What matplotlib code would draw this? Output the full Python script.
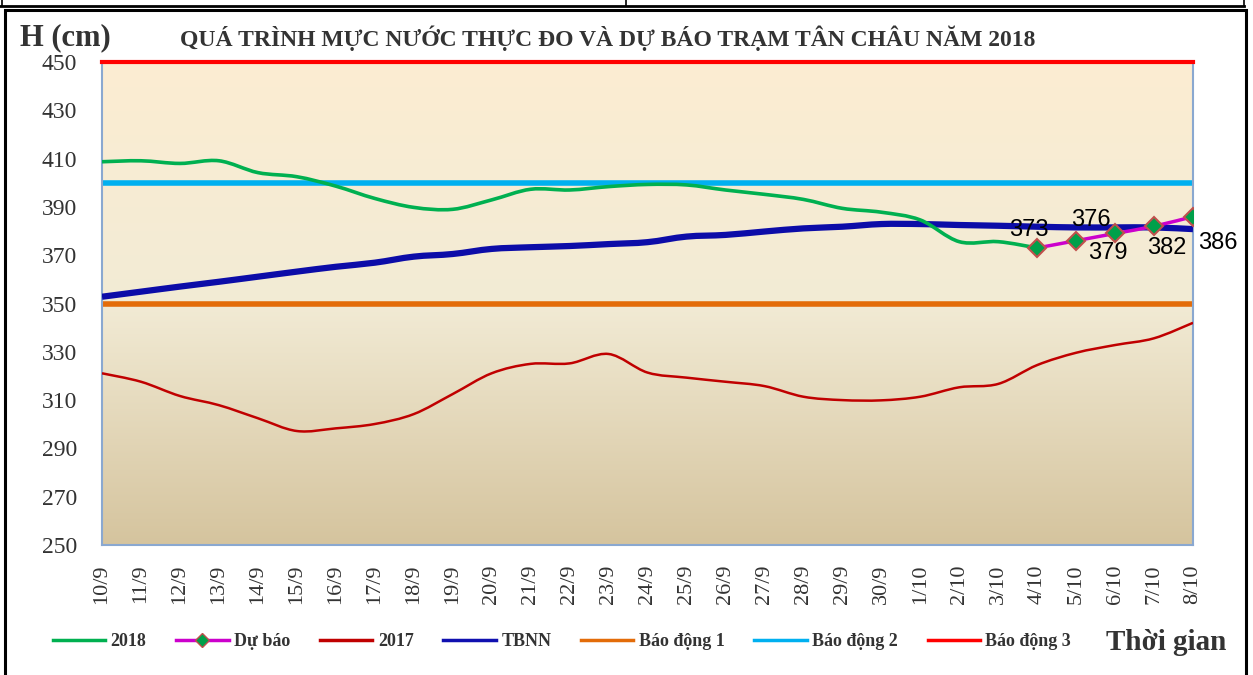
import numpy as np
import matplotlib
matplotlib.use("Agg")
import matplotlib.pyplot as plt
from matplotlib.path import Path
from matplotlib.patches import PathPatch, Rectangle
from matplotlib.lines import Line2D
from matplotlib.colors import LinearSegmentedColormap

# ---- data ----
dates = ['10/9', '11/9', '12/9', '13/9', '14/9', '15/9', '16/9', '17/9', '18/9', '19/9',
         '20/9', '21/9', '22/9', '23/9', '24/9', '25/9', '26/9', '27/9', '28/9', '29/9',
         '30/9', '1/10', '2/10', '3/10', '4/10', '5/10', '6/10', '7/10', '8/10']

h2018 = [408.7, 409.1, 408.0, 409.1, 404.2, 402.5, 398.6, 393.5, 389.8, 389.0,
         392.9, 397.3, 397.0, 398.4, 399.3, 399.1, 397.0, 395.2, 393.1, 389.4,
         387.8, 384.6, 375.6, 375.6, 373.0]

du_bao_dates = ['4/10', '5/10', '6/10', '7/10', '8/10']
du_bao = [373, 376, 379, 382, 386]

h2017 = [321.1, 317.6, 311.7, 307.9, 302.5, 297.2, 298.3, 300.1, 304.2, 312.5,
         321.1, 325.0, 325.2, 329.1, 321.4, 319.3, 317.6, 315.8, 311.4, 310.0,
         309.9, 311.4, 315.3, 316.7, 324.5, 329.6, 332.8, 335.6, 342.0]

tbnn = [352.8, 354.9, 357.0, 359.0, 361.1, 363.2, 365.2, 366.9, 369.4, 370.5,
        372.6, 373.3, 373.8, 374.6, 375.4, 377.7, 378.4, 379.8, 381.1, 381.8,
        382.9, 382.9, 382.5, 382.2, 381.8, 381.5, 381.5, 381.5, 380.8]

bao_dong_1 = 350
bao_dong_2 = 400
bao_dong_3 = 450

W, H = 1253, 675
SERIF = ['Liberation Serif', 'DejaVu Serif']
SANS = ['Liberation Sans', 'DejaVu Sans']


def smooth_path(xs, ys):
    # Excel-like smoothed line: cubic Bezier segments (Catmull-Rom control points)
    xs = np.asarray(xs, float)
    ys = np.asarray(ys, float)
    verts = [(xs[0], ys[0])]
    codes = [Path.MOVETO]
    n = len(xs)
    for i in range(n - 1):
        i0 = max(i - 1, 0)
        i3 = min(i + 2, n - 1)
        c1 = (xs[i] + (xs[i + 1] - xs[i0]) / 6, ys[i] + (ys[i + 1] - ys[i0]) / 6)
        c2 = (xs[i + 1] - (xs[i3] - xs[i]) / 6, ys[i + 1] - (ys[i3] - ys[i]) / 6)
        verts += [c1, c2, (xs[i + 1], ys[i + 1])]
        codes += [Path.CURVE4] * 3
    return Path(verts, codes)


fig = plt.figure(figsize=(W / 100, H / 100), dpi=100)
ax = fig.add_axes([102 / W, 1 - 545 / H, (1193 - 102) / W, (545 - 62) / H])

# gradient background of the plot area
bg = LinearSegmentedColormap.from_list('bg', [(0, '#FCEDD2'), (0.5, '#F2EBD5'), (1, '#D5C49E')])
ax.imshow(np.linspace(0, 1, 256).reshape(-1, 1), cmap=bg, aspect='auto',
          extent=[0, len(dates) - 1, 250, 450], zorder=0)

x_all = np.arange(len(dates))

# alarm levels
ax.axhline(bao_dong_1, color='#E36C09', lw=4, zorder=2)
ax.axhline(bao_dong_2, color='#00B0F0', lw=4, zorder=2)
ax.axhline(bao_dong_3, color='#FF0000', lw=3, zorder=5, clip_on=False)

# smoothed series
ax.add_patch(PathPatch(smooth_path(x_all, h2017), fill=False, ec='#C00000', lw=1.8, zorder=3))
ax.add_patch(PathPatch(smooth_path(x_all, tbnn), fill=False, ec='#0C0CA8', lw=4.5, zorder=4))
x18 = x_all[:len(h2018)]
ax.add_patch(PathPatch(smooth_path(x18, h2018), fill=False, ec='#00B050', lw=2.6, zorder=4))
x_db = [dates.index(d) for d in du_bao_dates]
ax.add_patch(PathPatch(smooth_path(x_db, du_bao), fill=False, ec='#CC00CC', lw=2.5, zorder=5))
ax.plot(x_db, du_bao, ls='none', marker='D', ms=9, mfc='#00A04A', mec='#C0504D', mew=1.5, zorder=6)

# data labels for the forecast
offsets = [(-6, 13), (11, 15), (-5, -14), (9, -16), (18, -19)]
for xv, yv, off in zip(x_db, du_bao, offsets):
    ax.annotate(str(yv), (xv, yv), xytext=off, textcoords='offset points',
                ha='center', va='center', fontsize=17, family=SANS, color='black',
                zorder=7, annotation_clip=False)

ax.set_xlim(0, len(dates) - 1)
ax.set_ylim(250, 450)
ax.set_yticks(range(250, 451, 20))
ax.set_xticks(x_all)
ax.set_xticklabels(dates, rotation=90, va='top')
for lab in ax.get_yticklabels() + ax.get_xticklabels():
    lab.set_family(SERIF)
    lab.set_color('#333333')
ax.tick_params(axis='y', length=0, pad=18, labelsize=17)
ax.tick_params(axis='x', length=0, pad=14, labelsize=16)
for side in ['left', 'bottom', 'right']:
    ax.spines[side].set_color('#8AA8D0')
    ax.spines[side].set_linewidth(1.5)
ax.spines['top'].set_visible(False)

# texts
fig.text(20 / W, 1 - 38 / H, 'H (cm)', fontsize=22, fontweight='bold', family=SERIF,
         color='#333333', ha='left', va='center')
fig.text(608 / W, 1 - 38 / H, 'QUÁ TRÌNH MỰC NƯỚC THỰC ĐO VÀ DỰ BÁO TRẠM TÂN CHÂU NĂM 2018',
         fontsize=17, fontweight='bold', family=SERIF, color='#333333', ha='center', va='center')
fig.text(1166 / W, 1 - 642 / H, 'Thời gian', fontsize=21, fontweight='bold', family=SERIF,
         color='#333333', ha='center', va='center')

# legend
handles = [
    Line2D([], [], color='#00B050', lw=2.5),
    Line2D([], [], color='#CC00CC', lw=2.5, marker='D', ms=7, mfc='#00A04A', mec='#C0504D'),
    Line2D([], [], color='#C00000', lw=2.5),
    Line2D([], [], color='#1010B0', lw=2.5),
    Line2D([], [], color='#E36C09', lw=2.5),
    Line2D([], [], color='#00B0F0', lw=2.5),
    Line2D([], [], color='#FF0000', lw=2.5),
]
labels = ['2018', 'Dự báo', '2017', 'TBNN', 'Báo động 1', 'Báo động 2', 'Báo động 3']
fig.legend(handles, labels, loc='center', bbox_to_anchor=(562 / W, 1 - 642 / H), ncol=7,
           frameon=False, handlelength=2.9, handletextpad=0.3, columnspacing=1.65,
           prop={'family': SERIF, 'weight': 'bold', 'size': 13}, labelcolor='#333333')

# frames around the chart
fig.add_artist(Rectangle((5 / W, -0.01), (1246 - 5) / W, 1 - 10 / H + 0.01,
                         transform=fig.transFigure, fill=False, ec='black', lw=2.2))
fig.add_artist(Line2D([0, 1244 / W], [1 - 6 / H, 1 - 6 / H], transform=fig.transFigure,
                      color='black', lw=2))
for xp in [2, 626, 1244]:
    fig.add_artist(Line2D([xp / W, xp / W], [1, 1 - 6 / H], transform=fig.transFigure,
                          color='black', lw=1.2))

fig.savefig('out.png', dpi=100)
